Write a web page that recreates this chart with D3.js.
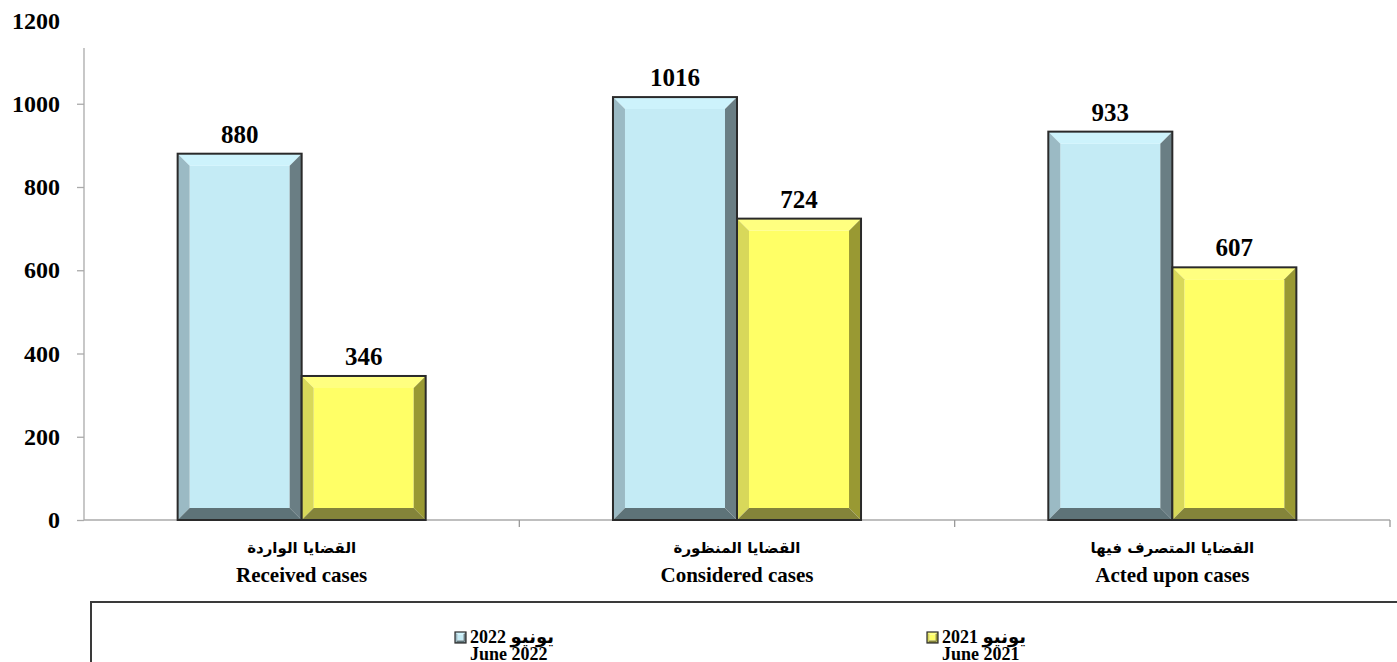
<!DOCTYPE html>
<html>
<head>
<meta charset="utf-8">
<script src="https://cdn.jsdelivr.net/npm/d3@7"></script>
<style>
  body { margin: 0; background: #fff; }
  svg { display: block; }
</style>
</head>
<body>
<div id="chart"></div>
<script>
var width = 1397
var height = 662

// data
var categoriesAr = ['القضايا الواردة', 'القضايا المنظورة', 'القضايا المتصرف فيها'];
var categoriesEn = ['Received cases', 'Considered cases', 'Acted upon cases'];
var seriesKeys = ['s2022', 's2021'];
var seriesAr = ['يونيو  2022', 'يونيو 2021'];
var seriesEn = ['June 2022', 'June 2021'];
var values2022 = [880, 1016, 933];
var values2021 = [346, 724, 607];
var yTicks = [0, 200, 400, 600, 800, 1000, 1200];

var palette = {
    s2022: { face: '#c4ebf5', top: '#cdf3fc', left: '#9bbac4', right: '#6a7e84', bottom: '#5e7378' },
    s2021: { face: '#ffff66', top: '#ffff80', left: '#d8d85a', right: '#999933', bottom: '#84843a' }
};

var rows = categoriesEn.map(function (c, i) {
    return { cat: c, ar: categoriesAr[i], s2022: values2022[i], s2021: values2021[i] };
});

var margin = { left: 84, right: 7 };
var plotBottom = 520;

var svg = d3.select('#chart')
            .append('svg')
            .attr('width', width)
            .attr('height', height);

var y = d3.scaleLinear().domain([0, 1200]).range([plotBottom, 20.5]);
var x0 = d3.scaleBand().domain(categoriesEn).range([margin.left, width - margin.right]).padding(0);
var x1 = d3.scaleBand().domain(seriesKeys).range([0, x0.bandwidth()]).paddingInner(0).paddingOuter(0.755);

var serif = "'Liberation Serif', 'Times New Roman', 'DejaVu Sans', serif";
var arabicFont = "'DejaVu Sans', sans-serif";

//////////////// y axis /////////////////
var yAxis = svg.append('g')
    .attr('transform', 'translate(' + margin.left + ',0)')
    .call(d3.axisLeft(y).tickValues(yTicks).tickFormat(d3.format('d')).tickSize(7).tickPadding(17));

yAxis.select('.domain').remove();
yAxis.append('line')
    .attr('x1', 0).attr('x2', 0)
    .attr('y1', 48).attr('y2', plotBottom)
    .attr('stroke', '#aaa').attr('stroke-width', 1.3);
yAxis.selectAll('.tick line').attr('stroke', '#aaa').attr('stroke-width', 1.3)
    .filter(function (d) { return d === 1200; }).remove();
yAxis.selectAll('.tick text')
    .attr('fill', '#000')
    .style('font-family', serif)
    .style('font-weight', 'bold')
    .style('font-size', '24px');

//////////////// x axis /////////////////
var xAxis = svg.append('g');
xAxis.append('line')
    .attr('x1', margin.left).attr('x2', width - margin.right)
    .attr('y1', plotBottom).attr('y2', plotBottom)
    .attr('stroke', '#aaa').attr('stroke-width', 1.3);
xAxis.selectAll('line.tk')
    .data(categoriesEn)
    .enter().append('line')
    .attr('class', 'tk')
    .attr('x1', function (d) { return x0(d) + x0.bandwidth(); })
    .attr('x2', function (d) { return x0(d) + x0.bandwidth(); })
    .attr('y1', plotBottom).attr('y2', plotBottom + 7)
    .attr('stroke', '#999').attr('stroke-width', 1.3);

//////////////// bevelled bars /////////////////
function bevel(g, x, yTop, w, h, col, b, strokeW) {
    b = Math.min(b, w / 2, h / 2);
    var xa = x, xb = x + w, ya = yTop, yb = yTop + h;
    var faces = [
        { c: col.face, p: [[xa + b, ya + b], [xb - b, ya + b], [xb - b, yb - b], [xa + b, yb - b]] },
        { c: col.top, p: [[xa, ya], [xb, ya], [xb - b, ya + b], [xa + b, ya + b]] },
        { c: col.left, p: [[xa, ya], [xa + b, ya + b], [xa + b, yb - b], [xa, yb]] },
        { c: col.right, p: [[xb, ya], [xb, yb], [xb - b, yb - b], [xb - b, ya + b]] },
        { c: col.bottom, p: [[xa, yb], [xa + b, yb - b], [xb - b, yb - b], [xb, yb]] }
    ];
    g.selectAll(null).data(faces).enter().append('polygon')
        .attr('points', function (d) { return d.p.map(function (q) { return q.join(','); }).join(' '); })
        .attr('fill', function (d) { return d.c; });
    g.append('rect')
        .attr('x', xa).attr('y', ya).attr('width', w).attr('height', h)
        .attr('fill', 'none').attr('stroke', '#2a2a2a').attr('stroke-width', strokeW);
}

var groups = svg.selectAll('g.cat')
    .data(rows)
    .enter().append('g')
    .attr('class', 'cat')
    .attr('transform', function (d) { return 'translate(' + x0(d.cat) + ',0)'; });

seriesKeys.forEach(function (k) {
    groups.each(function (d) {
        var g = d3.select(this).append('g');
        bevel(g, x1(k), y(d[k]), x1.bandwidth(), plotBottom - y(d[k]), palette[k], 12, 2);
        d3.select(this).append('text')
            .attr('x', x1(k) + x1.bandwidth() / 2)
            .attr('y', y(d[k]) - 11)
            .attr('text-anchor', 'middle')
            .style('font-family', serif)
            .style('font-weight', 'bold')
            .style('font-size', '25px')
            .text(d[k]);
    });
});

//////////////// category labels /////////////////
groups.append('text')
    .attr('x', x0.bandwidth() / 2)
    .attr('y', 553)
    .attr('text-anchor', 'middle')
    .style('font-family', arabicFont)
    .style('font-weight', 'bold')
    .style('font-size', '15px')
    .text(function (d) { return d.ar; });

groups.append('text')
    .attr('x', x0.bandwidth() / 2)
    .attr('y', 582)
    .attr('text-anchor', 'middle')
    .style('font-family', serif)
    .style('font-weight', 'bold')
    .style('font-size', '21px')
    .text(function (d) { return d.cat; });

//////////////// legend /////////////////
svg.append('rect')
    .attr('x', 91).attr('y', 602)
    .attr('width', 1400).attr('height', 100)
    .attr('fill', 'none')
    .attr('stroke', '#3a3a3a')
    .attr('stroke-width', 2);

var legendX = [455, 927];
var legend = svg.selectAll('g.leg')
    .data(seriesKeys)
    .enter().append('g')
    .attr('class', 'leg')
    .attr('transform', function (d, i) { return 'translate(' + legendX[i] + ',0)'; });

legend.each(function (k) {
    bevel(d3.select(this), 0, 632, 11, 11, palette[k], 2.5, 1.2);
});

legend.append('text')
    .attr('x', 15)
    .attr('y', 643)
    .style('font-family', serif)
    .style('font-weight', 'bold')
    .style('font-size', '18px')
    .text(function (d, i) { return seriesAr[i]; });

legend.append('text')
    .attr('x', 15)
    .attr('y', 660)
    .style('font-family', serif)
    .style('font-weight', 'bold')
    .style('font-size', '18px')
    .text(function (d, i) { return seriesEn[i]; });
</script>
</body>
</html>
